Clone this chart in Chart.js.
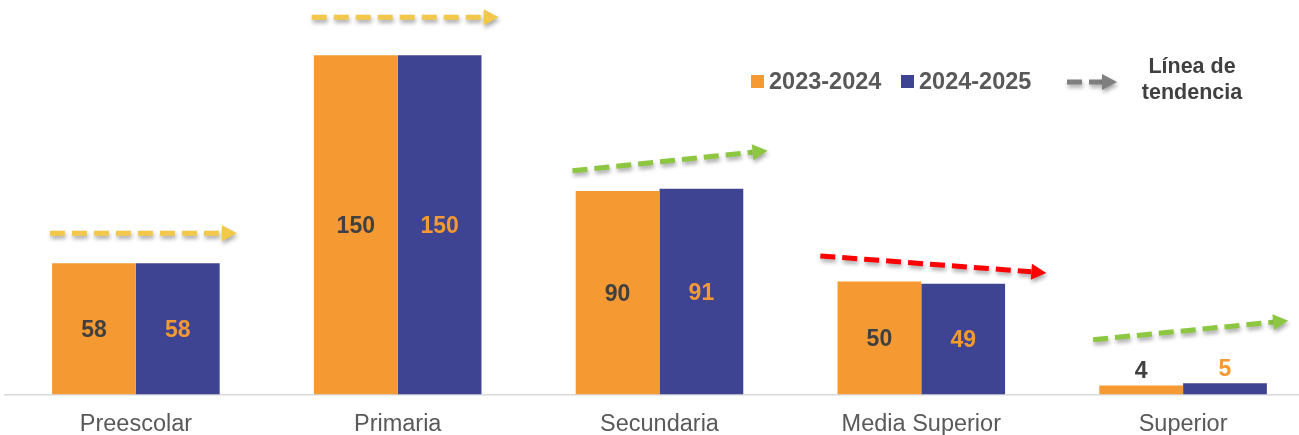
<!DOCTYPE html>
<html>
<head>
<meta charset="utf-8">
<script src="https://cdn.jsdelivr.net/npm/chart.js@4/dist/chart.umd.min.js"></script>
<style>
  html, body { margin: 0; padding: 0; background: #ffffff; overflow: hidden; }
  #wrap { position: relative; width: 1314px; height: 435px; }
</style>
</head>
<body>
<div id="wrap"><canvas id="c"></canvas></div>
<script>
const categories = ['Preescolar', 'Primaria', 'Secundaria', 'Media Superior', 'Superior'];
const seriesLabels = ['2023-2024', '2024-2025'];
const values2023 = [58, 150, 90, 50, 4];
const values2024 = [58, 150, 91, 49, 5];
const trendLegendLines = ['Línea de', 'tendencia'];

const ORANGE = '#F59932';
const BLUE = '#3E4491';
const DARK = '#404040';
const GREY_TEXT = '#595959';

function trendColor(a, b) {
  if (b > a) return '#8DC641';
  if (b < a) return '#FF0000';
  return '#F2C84B';
}

function drawArrow(ctx, x1, y1, x2, y2, color, lw, dash, headLen, headHalf) {
  const ang = Math.atan2(y2 - y1, x2 - x1);
  const bx = x2 - headLen * Math.cos(ang);
  const by = y2 - headLen * Math.sin(ang);
  ctx.save();
  ctx.shadowColor = 'rgba(0,0,0,0.35)';
  ctx.shadowBlur = 4;
  ctx.shadowOffsetX = 1;
  ctx.shadowOffsetY = 3;
  ctx.strokeStyle = color;
  ctx.fillStyle = color;
  ctx.lineWidth = lw;
  ctx.setLineDash(dash);
  ctx.beginPath();
  ctx.moveTo(x1, y1);
  ctx.lineTo(bx, by);
  ctx.stroke();
  ctx.setLineDash([]);
  ctx.beginPath();
  ctx.moveTo(x2, y2);
  ctx.lineTo(bx - headHalf * Math.sin(ang), by + headHalf * Math.cos(ang));
  ctx.lineTo(bx + headHalf * Math.sin(ang), by - headHalf * Math.cos(ang));
  ctx.closePath();
  ctx.fill();
  ctx.restore();
}

const decorPlugin = {
  id: 'decor',
  afterDatasetsDraw(chart, args, opts) {
    const ctx = chart.ctx;
    const x = chart.scales.x, y = chart.scales.y;
    // value labels
    ctx.save();
    ctx.font = 'bold 23px "Liberation Sans", Arial, sans-serif';
    ctx.textAlign = 'center';
    ctx.textBaseline = 'middle';
    chart.data.datasets.forEach((ds, di) => {
      const meta = chart.getDatasetMeta(di);
      meta.data.forEach((bar, i) => {
        const h = bar.base - bar.y;
        ctx.fillStyle = di === 0 ? DARK : ORANGE;
        if (h > 40) ctx.fillText(String(ds.data[i]), bar.x, (bar.y + bar.base) / 2 + 2);
        else ctx.fillText(String(ds.data[i]), bar.x, bar.y - 14);
      });
    });
    ctx.restore();
    // trend arrows
    categories.forEach((c, i) => {
      const a = values2023[i], b = values2024[i];
      const cx = x.getPixelForValue(i);
      const top = y.getPixelForValue(Math.max(a, b));
      const cy = top - opts.gap[i];
      const dir = Math.sign(b - a);
      const ext = opts.extent[i];
      const tilt = opts.tilt[i] / 2;
      drawArrow(ctx, cx + ext[0], cy + dir * tilt, cx + ext[1], cy - dir * tilt,
        trendColor(a, b), 5, [15, 7], 15, 8);
    });
    // legend
    ctx.save();
    ctx.font = 'bold 23.5px "Liberation Sans", Arial, sans-serif';
    ctx.textBaseline = 'alphabetic';
    ctx.textAlign = 'left';
    const L = opts.legend;
    [ORANGE, BLUE].forEach((col, k) => {
      const lx = L.x[k];
      ctx.fillStyle = col;
      ctx.fillRect(lx, L.y - 13, 13, 13);
      ctx.fillStyle = GREY_TEXT;
      ctx.fillText(seriesLabels[k], lx + 18, L.y + 1);
    });
    ctx.restore();
    drawArrow(ctx, L.trendX, L.y - 6, L.trendX + 50, L.y - 6, '#7F7F7F', 5, [15, 7], 15, 8);
    ctx.save();
    ctx.font = 'bold 21.5px "Liberation Sans", Arial, sans-serif';
    ctx.fillStyle = DARK;
    ctx.textAlign = 'center';
    ctx.textBaseline = 'middle';
    ctx.fillText(trendLegendLines[0], L.trendTextX, L.y - 21);
    ctx.fillText(trendLegendLines[1], L.trendTextX, L.y + 5);
    ctx.restore();
  }
};

new Chart(document.getElementById('c'), {
  type: 'bar',
  data: {
    labels: categories,
    datasets: [
      { label: seriesLabels[0], data: values2023, backgroundColor: ORANGE },
      { label: seriesLabels[1], data: values2024, backgroundColor: BLUE }
    ]
  },
  options: {
    responsive: true,
    maintainAspectRatio: false,
    animation: false,
    devicePixelRatio: 1,
    layout: { padding: { top: 10, left: 5, right: 0, bottom: 0 } },
    datasets: { bar: { categoryPercentage: 0.64, barPercentage: 1.0 } },
    plugins: {
      legend: { display: false },
      tooltip: { enabled: false },
      decor: {
        gap: [30, 38, 28, 17, 53],
        tilt: [0, 0, 20, 17, 19],
        extent: [[-86, 101], [-86, 101], [-87, 108], [-101, 125], [-90, 105]],
        legend: { x: [751, 901], y: 88, trendX: 1067, trendTextX: 1192 }
      }
    },
    scales: {
      x: {
        afterFit(scale) { scale.height = 40.5; },
        grid: { display: true, drawOnChartArea: false, drawTicks: false },
        border: { display: true, color: '#D9D9D9', width: 1.5 },
        ticks: { color: GREY_TEXT, padding: 16, font: { family: '"Liberation Sans", Arial, sans-serif', size: 23.5 } }
      },
      y: { display: false, min: 0, max: 170 }
    }
  },
  plugins: [decorPlugin]
});
</script>
</body>
</html>
